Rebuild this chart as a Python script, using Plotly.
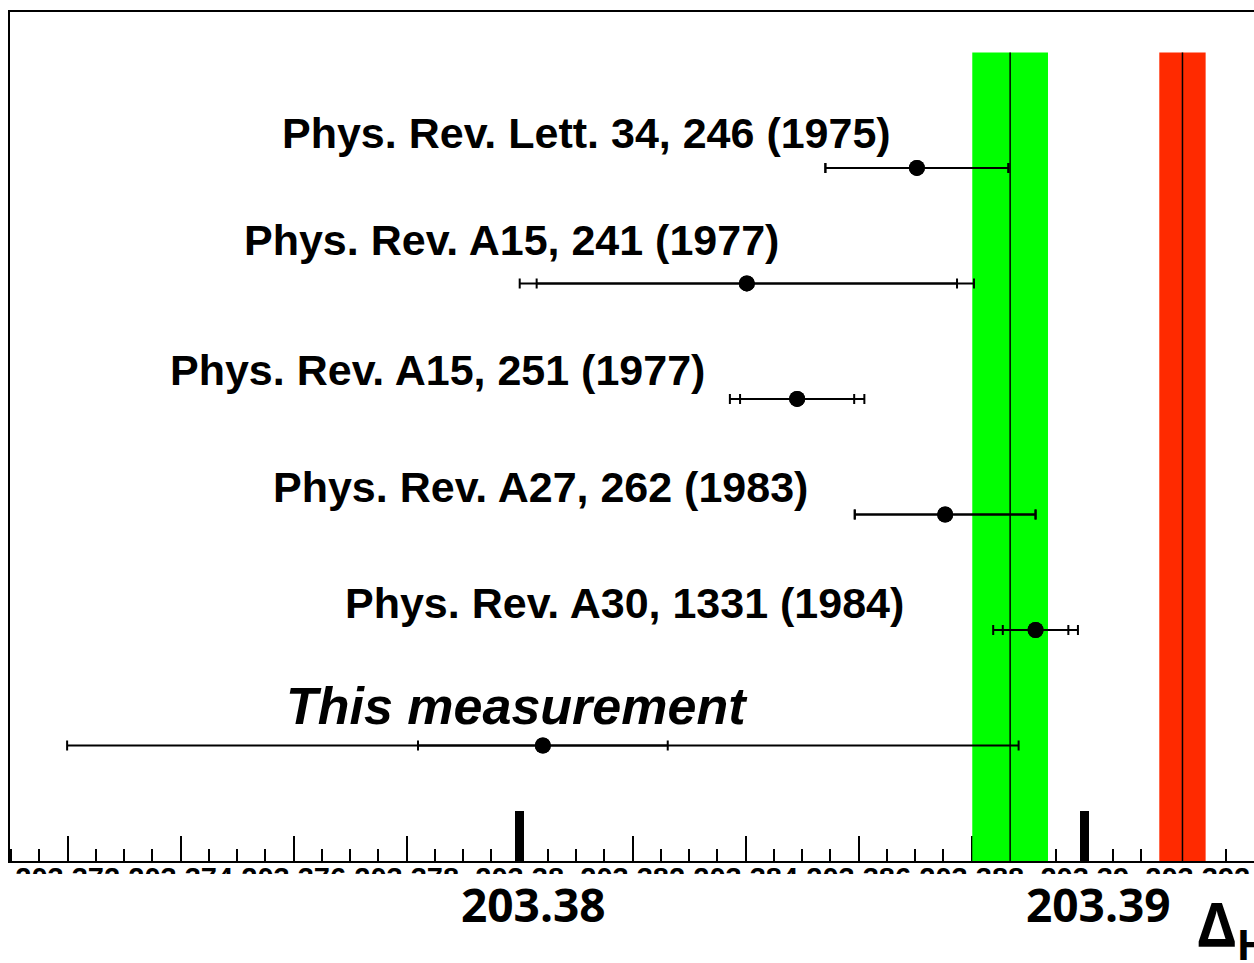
import plotly.graph_objects as go

# Positronium hyperfine splitting measurements (GHz)
references = [
    "Phys. Rev. Lett. 34, 246 (1975)",
    "Phys. Rev. A15, 241 (1977)",
    "Phys. Rev. A15, 251 (1977)",
    "Phys. Rev. A27, 262 (1983)",
    "Phys. Rev. A30, 1331 (1984)",
    "This measurement",
]
values = [203.38703, 203.38402, 203.38491, 203.38753, 203.38913, 203.38041]
err_stat = [0.00162, 0.00372, 0.00101, 0.00160, 0.00058, 0.00221]
err_total = [0.00162, 0.00402, 0.00119, 0.00160, 0.00075, 0.00842]
rows = [6, 5, 4, 3, 2, 1]

# Experimental average (green) and theory prediction (red): centre, half width
average = [203.38868, 0.00067]
theory = [203.39173, 0.00041]
band_top = 7

# Axis ticks
tick_vals = [203.372, 203.374, 203.376, 203.378, 203.380, 203.382,
             203.384, 203.386, 203.388, 203.390, 203.392]
tick_text = ["203.372", "203.374", "203.376", "203.378", "203.38", "203.382",
             "203.384", "203.386", "203.388", "203.39", "203.392"]
major_vals = [203.38, 203.39]
major_text = ["203.38", "203.39"]

# Placement of the reference captions (x in GHz, y in row units)
label_x = [203.37575, 203.37509, 203.37378, 203.37560, 203.37688, 203.37582]
label_y = [6.30, 5.38, 4.25, 3.24, 2.23, 1.34]

fig = go.Figure()

for (centre, half), colour in ((average, "#00ff00"), (theory, "#ff2a00")):
    fig.add_trace(go.Bar(x=[centre], y=[band_top], base=0, width=[2 * half],
                         marker=dict(color=colour, line=dict(width=0)),
                         showlegend=False, hoverinfo="skip"))
    fig.add_trace(go.Scatter(x=[centre, centre], y=[0, band_top], mode="lines",
                             line=dict(color="black", width=1.5),
                             showlegend=False, hoverinfo="skip"))

for errs in (err_total, err_stat):
    fig.add_trace(go.Scatter(
        x=values, y=rows, mode="markers",
        marker=dict(color="black", size=16, symbol="circle"),
        error_x=dict(type="data", array=errs, symmetric=True,
                     color="black", thickness=2, width=5),
        showlegend=False,
    ))

# invisible trace so the overlay axis carrying the heavy ticks is drawn
fig.add_trace(go.Scatter(x=major_vals, y=[0, 0], xaxis="x2", mode="markers",
                         marker=dict(opacity=0), showlegend=False,
                         hoverinfo="skip"))

for i, text in enumerate(references):
    last = i == len(references) - 1
    fig.add_annotation(
        x=label_x[i], y=label_y[i], xref="x", yref="y",
        text=f"<i>{text}</i>" if last else text,
        showarrow=False, xanchor="left", yanchor="middle",
        font=dict(family="Liberation Sans", size=52 if last else 43,
                  color="black", weight="bold"),
    )

# Strip that hides the lower part of the small tick labels
fig.add_shape(type="rect", xref="paper", yref="paper",
              x0=-0.1, x1=1.1, y0=-0.5, y1=-0.0153,
              fillcolor="white", line=dict(width=0), layer="above")

for v, t in zip(major_vals, major_text):
    fig.add_annotation(
        x=v, y=-0.0512, xref="x", yref="paper", text=t, showarrow=False,
        xanchor="center", yanchor="middle", xshift=14,
        font=dict(family="Open Sans", size=46, color="black", weight="bold"),
    )

fig.add_annotation(
    x=0.9526, y=-0.078, xref="paper", yref="paper",
    text="Δ<sub>HFS</sub>", showarrow=False, xanchor="left", yanchor="middle",
    font=dict(family="Open Sans", size=60, color="black", weight="bold"),
)

x_range = [203.370979, 203.392996]
fig.update_layout(
    width=1254, height=963,
    margin=dict(l=10, r=0, t=12, b=102),
    paper_bgcolor="white", plot_bgcolor="white",
    barmode="overlay",
    xaxis=dict(
        range=x_range, showgrid=False, zeroline=False,
        showline=True, linecolor="black", linewidth=2, mirror=True,
        tickmode="array", tickvals=tick_vals, ticktext=tick_text,
        ticks="inside", ticklen=25, tickwidth=2, tickcolor="black",
        tickfont=dict(family="Liberation Sans", size=29, color="black",
                      weight="bold"),
        ticklabelstandoff=-10,
        minor=dict(dtick=0.0005, tick0=203.372, ticks="inside", ticklen=12,
                   tickwidth=2, tickcolor="black", showgrid=False),
        layer="below traces",
    ),
    xaxis2=dict(
        overlaying="x", range=x_range, side="bottom",
        anchor="y", showgrid=False, zeroline=False, showline=False,
        tickmode="array", tickvals=major_vals, ticks="inside",
        ticklen=50, tickwidth=9, tickcolor="black", showticklabels=False,
    ),
    yaxis=dict(
        range=[0, 7.35], showgrid=False, zeroline=False,
        showline=True, linecolor="black", linewidth=2,
        showticklabels=False, ticks="",
    ),
)

fig.write_html("out.html")
